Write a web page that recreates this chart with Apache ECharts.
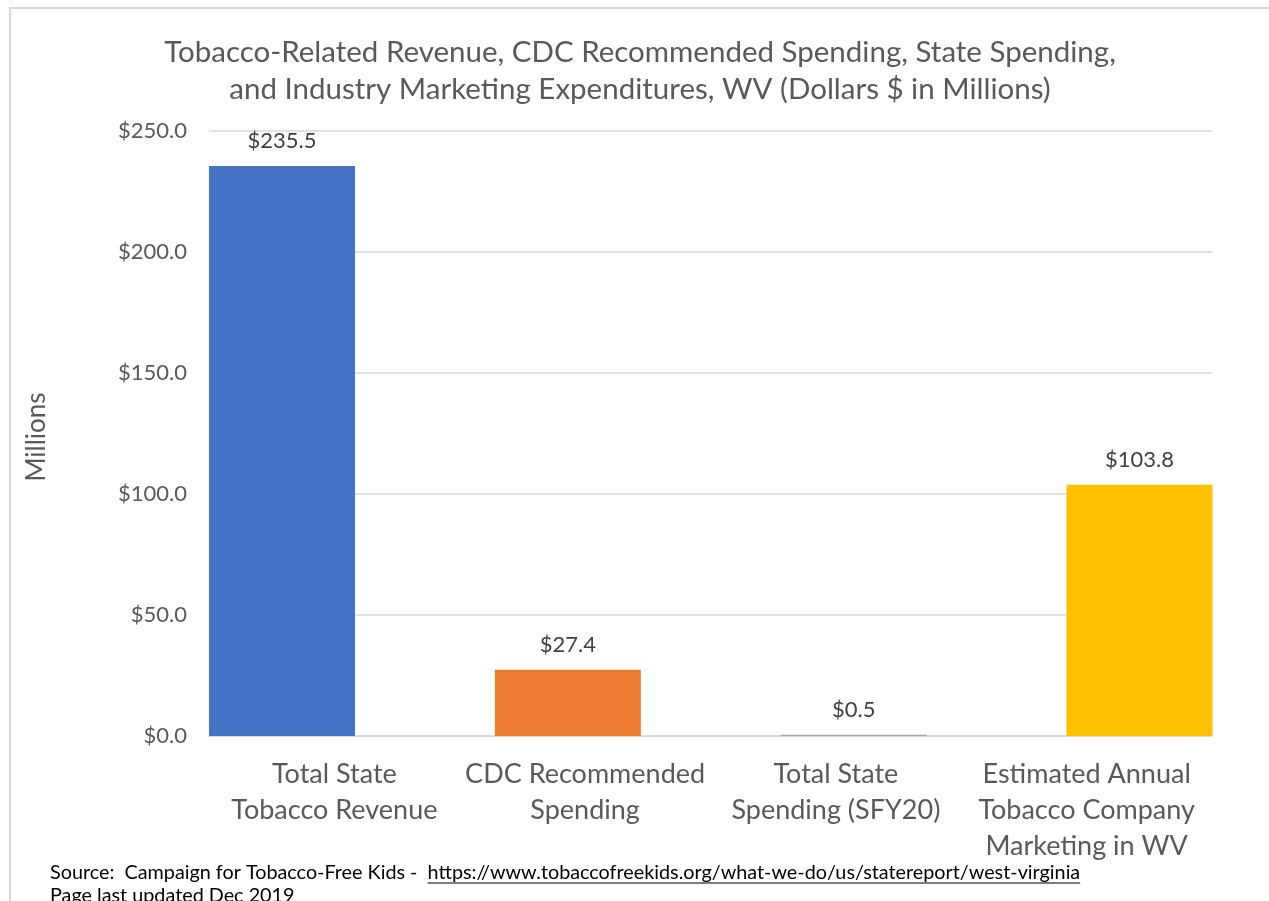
<!DOCTYPE html>
<html>
<head>
<meta charset="utf-8">
<script src="https://cdn.jsdelivr.net/npm/echarts@6/dist/echarts.min.js"></script>
<style>
html,body{margin:0;padding:0;background:#fff;}
#chart{width:1269px;height:901px;}
</style>
</head>
<body>
<div id="chart"></div>
<script>
const titleLines = ['Tobacco-Related Revenue, CDC Recommended Spending, State Spending,', 'and Industry Marketing Expenditures, WV (Dollars $ in Millions)'];
const categories = ['Total State\nTobacco Revenue', 'CDC Recommended\nSpending', 'Total State\nSpending (SFY20)', 'Estimated Annual\nTobacco Company\nMarketing in WV'];
const values = [235.5, 27.4, 0.5, 103.8];
const barColors = ['#4472C4', '#ED7D31', '#A5A5A5', '#FFC000'];
const yMin = 0, yMax = 250, yStep = 50;
const yAxisName = 'Millions';
const sourcePrefix = 'Source:  Campaign for Tobacco-Free Kids -  ';
const sourceLink = 'https://www.tobaccofreekids.org/what-we-do/us/statereport/west-virginia';
const footnote = 'Page last updated Dec 2019';

const FONT = 'Lato';
const chart = echarts.init(document.getElementById('chart'), null, {renderer: 'canvas'});

function textWidth(t, size) {
  const c = document.createElement('canvas').getContext('2d');
  c.font = size + 'px ' + FONT;
  return c.measureText(t).width;
}
const srcSize = 19.8;
const srcX = 50, srcY = 873;
const prefixW = textWidth(sourcePrefix, srcSize);
const linkW = textWidth(sourceLink, srcSize);

const option = {
  animation: false,
  backgroundColor: '#fff',
  textStyle: {fontFamily: FONT},
  grid: [
    {left: 209, right: 57, top: 131, bottom: 165, outerBoundsMode: 'none'},
    {left: 139.1, width: 1143.3, top: 131, bottom: 165, outerBoundsMode: 'none'}
  ],
  xAxis: [
    {
      type: 'category', gridIndex: 0, data: categories,
      axisLine: {show: true, lineStyle: {color: '#d9d9d9', width: 1.5}},
      axisTick: {show: false},
      axisLabel: {interval: 0, color: '#595959', fontSize: 27, lineHeight: 36, margin: 20, fontFamily: FONT, verticalAlign: 'top'}
    },
    {
      type: 'category', gridIndex: 1, data: categories,
      axisLine: {show: false}, axisTick: {show: false}, axisLabel: {show: false}
    }
  ],
  yAxis: [
    {
      type: 'value', gridIndex: 0, min: yMin, max: yMax, interval: yStep,
      axisLine: {show: false}, axisTick: {show: false},
      splitLine: {lineStyle: {color: '#d9d9d9', width: 1.5}},
      axisLabel: {color: '#595959', fontSize: 22, margin: 22, fontFamily: FONT,
        formatter: v => '$' + v.toFixed(1)}
    },
    {
      type: 'value', gridIndex: 1, min: yMin, max: yMax, interval: yStep,
      show: false, splitLine: {show: false}
    }
  ],
  series: [{
    type: 'bar',
    xAxisIndex: 1, yAxisIndex: 1,
    barWidth: 146,
    data: values.map((v, i) => ({value: v, itemStyle: {color: barColors[i]}})),
    label: {
      show: true, position: 'top', distance: 14,
      color: '#404040', fontSize: 22, fontFamily: FONT,
      formatter: p => '$' + p.value.toFixed(1)
    }
  }],
  graphic: [
    {type: 'rect', shape: {x: 10, y: 8, width: 1400, height: 1000},
      style: {fill: null, stroke: '#d9d9d9', lineWidth: 2}, silent: true},
    {type: 'text', x: 640, y: 52,
      style: {text: titleLines[0], fontSize: 29.5, fontFamily: FONT, fill: '#595959', align: 'center', verticalAlign: 'middle'}},
    {type: 'text', x: 640, y: 89,
      style: {text: titleLines[1], fontSize: 29.5, fontFamily: FONT, fill: '#595959', align: 'center', verticalAlign: 'middle'}},
    {type: 'text', x: 37, y: 437, rotation: Math.PI / 2,
      style: {text: yAxisName, fontSize: 26, fontFamily: FONT, fill: '#595959', align: 'center', verticalAlign: 'middle'}},
    {type: 'text', x: srcX, y: srcY,
      style: {text: sourcePrefix, fontSize: srcSize, fontFamily: FONT, fill: '#000', align: 'left', verticalAlign: 'middle'}},
    {type: 'text', x: srcX + prefixW, y: srcY,
      style: {text: sourceLink, fontSize: srcSize, fontFamily: FONT, fill: '#000', align: 'left', verticalAlign: 'middle'}},
    {type: 'line', shape: {x1: srcX + prefixW, y1: srcY + 10, x2: srcX + prefixW + linkW, y2: srcY + 10},
      style: {stroke: '#000', lineWidth: 1.2}},
    {type: 'text', x: srcX, y: srcY + 23,
      style: {text: footnote, fontSize: srcSize, fontFamily: FONT, fill: '#000', align: 'left', verticalAlign: 'middle'}}
  ]
};
chart.setOption(option);
</script>
</body>
</html>
